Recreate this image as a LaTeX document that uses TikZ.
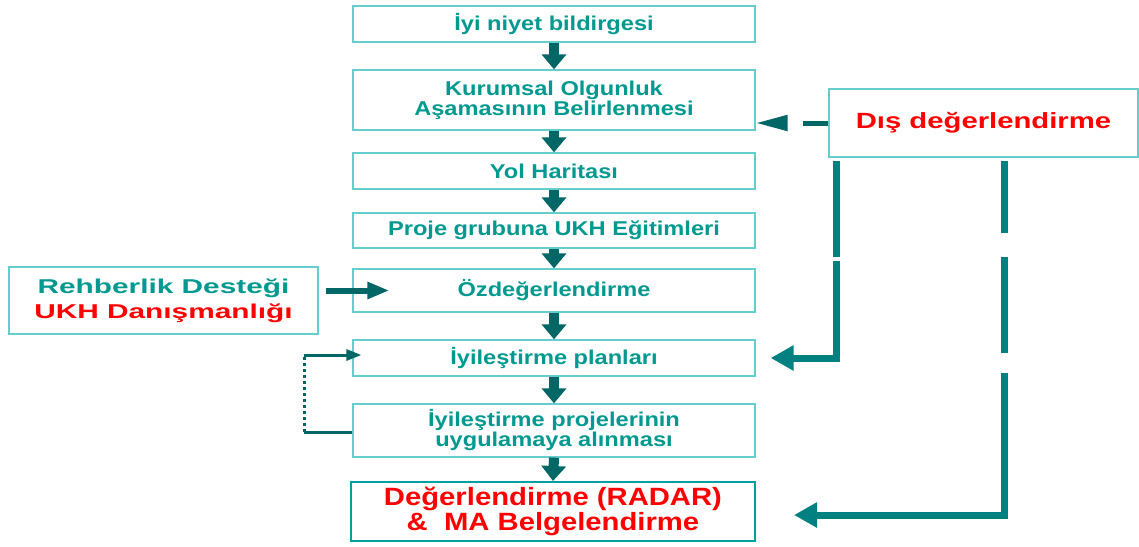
\documentclass[tikz,border=0pt]{standalone}
\usepackage{fontspec}
\usetikzlibrary{arrows.meta,calc}
\newfontfamily\boxfont{Liberation Sans}[FakeStretch=1.18]
\newfontfamily\finalfont{Liberation Sans}[FakeStretch=1.17]
\newfontfamily\redfont{Liberation Sans}[FakeStretch=1.33]
\newfontfamily\rehfont{Liberation Sans}[FakeStretch=1.49]
\definecolor{tealtext}{RGB}{0,153,143}
\definecolor{boxline}{RGB}{102,204,204}
\definecolor{darkteal}{RGB}{0,102,102}
\definecolor{midteal}{RGB}{0,128,128}
\definecolor{finalline}{RGB}{0,160,160}
\definecolor{redtext}{RGB}{255,0,0}
\begin{document}
\begin{tikzpicture}[x=1pt,y=-1pt,
  stepbox/.style={draw=boxline, line width=1.3pt, minimum width=402pt, inner sep=0pt,
    align=center, text=tealtext, font=\boxfont\bfseries\fontsize{20}{20}\selectfont},
  finalbox/.style={draw=finalline, line width=2pt, minimum width=404pt, minimum height=59pt,
    inner sep=0pt, align=center, text=redtext, font=\finalfont\bfseries\fontsize{25}{21}\selectfont},
  sidebox/.style={draw=boxline, line width=1.3pt, minimum width=309pt, inner sep=0pt, align=center},
  downarrow/.style={darkteal, line width=10pt, -{Triangle[length=15pt,width=24pt]}},
]
\useasboundingbox (0,0) rectangle (1139,546);

\node[stepbox, minimum height=36pt] (s1) at (554,24) {İyi niyet bildirgesi};
\node[stepbox, minimum height=60pt] (s2) at (554,100) {Kurumsal Olgunluk\\Aşamasının Belirlenmesi};
\node[stepbox, minimum height=36pt] (s3) at (554,171) {Yol Haritası};
\node[stepbox, minimum height=35pt] (s4) at (554,230.5) {Proje grubuna UKH Eğitimleri};
\node[stepbox, minimum height=43pt] (s5) at (554,290.5) {Özdeğerlendirme};
\node[stepbox, minimum height=36pt] (s6) at (554,358) {İyileştirme planları};
\node[stepbox, minimum height=53pt] (s7) at (554,430.5) {İyileştirme projelerinin\\uygulamaya alınması};
\node[finalbox] (s8) at (553,511.5) {Değerlendirme (RADAR)\\\&\ \ MA Belgelendirme};

\node[sidebox, minimum height=68pt, text=redtext, font=\redfont\bfseries\fontsize{22}{25}\selectfont]
  (dis) at (983.5,123) {Dış değerlendirme};
\node[sidebox, minimum height=67pt, font=\rehfont\bfseries\fontsize{20}{25}\selectfont]
  (reh) at (163.5,300.5) {\textcolor{tealtext}{Rehberlik Desteği}\\\textcolor{redtext}{UKH Danışmanlığı}};

\draw[downarrow] (s1.south) -- (s2.north);
\draw[downarrow] (s2.south) -- (s3.north);
\draw[downarrow] (s3.south) -- (s4.north);
\draw[downarrow] (s4.south) -- (s5.north);
\draw[downarrow] (s5.south) -- (s6.north);
\draw[downarrow] (s6.south) -- (s7.north);
\draw[downarrow] (s7.south) -- (s8.north);

% external evaluation -> maturity stage
\draw[darkteal, line width=5pt, dash pattern=on 25pt off 50pt,
  -{Triangle[length=32pt,width=15pt]}] (dis.west) -- (dis.west -| s2.east);

% external evaluation -> improvement plans
\draw[midteal, line width=7pt, line join=miter, dash pattern=on 96pt off 4pt on 1000pt,
  -{Triangle[length=23pt,width=24pt]}, shorten >=15pt]
  ($(dis.south west)+(8,3)$) |- (s6.east);

% external evaluation -> final evaluation
\draw[midteal, line width=7pt, line join=miter, dash pattern=on 72pt off 24pt on 96pt off 20pt on 2000pt,
  -{Triangle[length=23pt,width=24pt]}, shorten >=38pt]
  ($(dis.south west)+(176,3)$) |- ($(s8.east)+(0,3.5)$);

% guidance support -> self assessment
\draw[darkteal, line width=6pt, -{Triangle[length=22pt,width=16pt]}]
  ($(reh.east |- s5.west)+(7,0)$) -- ($(s5.west)+(37,0)$);

% feedback loop
\coordinate (fbA) at ($(s7.west)+(-48,1.5)$);
\coordinate (fbT) at ($(s6.west)+(0,-3)$);
\coordinate (fbB) at (fbA |- fbT);
\draw[darkteal, line width=3pt] ($(s7.west)+(0,1.5)$) -- (fbA);
\draw[darkteal, line width=3.5pt, dash pattern=on 3pt off 3pt] (fbA) -- (fbB);
\draw[darkteal, line width=3pt, -{Triangle[length=15pt,width=11pt]}] (fbB) -- ($(fbT)+(9,0)$);
\end{tikzpicture}
\end{document}
